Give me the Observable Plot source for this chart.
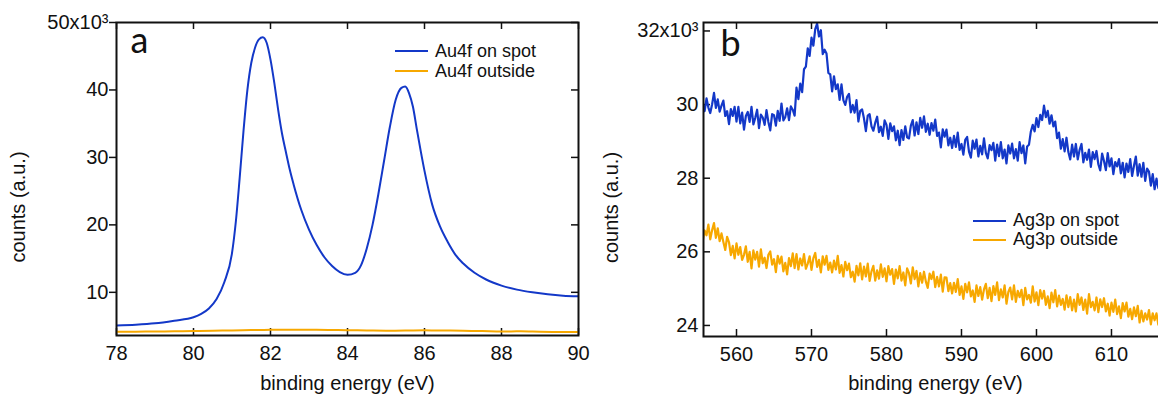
<!DOCTYPE html>
<html><head><meta charset="utf-8">
<script src="https://cdn.jsdelivr.net/npm/d3@7"></script>
<script src="https://cdn.jsdelivr.net/npm/@observablehq/plot@0.6"></script>
<style>
body{margin:0;background:#fff;overflow:hidden}
#wrap{position:relative;width:1158px;height:394px;overflow:hidden;font-family:"Liberation Sans",Arial,sans-serif;color:#111}
.panel{position:absolute;top:0}
.leg{position:absolute;font-size:18px;color:#111}
.leg .row{display:flex;align-items:center;white-space:nowrap}
.leg svg{margin-right:7px;display:block}
</style></head><body><div id="wrap"></div>
<script>
// ---------- panel a : Au4f ----------
const energyA = [78, 78.5, 79, 79.5, 80, 80.2, 80.4, 80.6, 80.8, 81.0, 81.1, 81.2, 81.3, 81.4, 81.5, 81.6, 81.7, 81.8, 81.9, 82.0, 82.1, 82.2, 82.3, 82.4, 82.5, 82.6, 82.8, 83.0, 83.2, 83.4, 83.6, 83.8, 84.0, 84.2, 84.35, 84.5, 84.65, 84.8, 84.95, 85.1, 85.25, 85.4, 85.5, 85.6, 85.7, 85.8, 85.9, 86.0, 86.2, 86.4, 86.6, 86.8, 87.0, 87.3, 87.6, 88.0, 88.4, 88.8, 89.2, 89.6, 90.0];
const au4fOnSpot = [5.1, 5.2, 5.4, 5.8, 6.3, 6.8, 7.6, 9.0, 11.5, 15.8, 20.5, 27.0, 34.0, 40.0, 44.0, 46.3, 47.5, 47.8, 47.0, 44.5, 41.0, 37.0, 33.5, 30.8, 28.2, 26.0, 22.2, 19.3, 17.0, 15.2, 13.9, 13.0, 12.6, 12.9, 14.0, 16.5, 20.0, 24.5, 29.5, 34.5, 38.5, 40.3, 40.5, 39.5, 37.5, 34.2, 31.0, 28.0, 23.0, 19.8, 17.5, 15.6, 14.3, 12.9, 11.9, 11.0, 10.4, 10.0, 9.7, 9.5, 9.4];
const energyAOut = [78, 78.5, 79, 79.5, 80, 80.5, 81, 81.5, 82, 82.5, 83, 83.5, 84, 84.5, 85, 85.5, 86, 86.5, 87, 87.5, 88, 88.5, 89, 89.5, 90];
const au4fOutside = [4.15, 4.17, 4.2, 4.22, 4.25, 4.3, 4.35, 4.4, 4.44, 4.46, 4.45, 4.42, 4.38, 4.35, 4.32, 4.33, 4.36, 4.34, 4.3, 4.26, 4.2, 4.22, 4.16, 4.12, 4.1];
const xTicksA = [78, 80, 82, 84, 86, 88, 90];
const yTicksA = [10, 20, 30, 40, 50];
const yTickLabelsA = ["10", "20", "30", "40", "50x10³"];

// ---------- panel b : Ag3p (0.25 eV sampling from 555.5 eV) ----------
const energyBStart = 555.5, energyBStep = 0.25;
const ag3pOnSpot = [
30.02, 29.82,
30.17, 29.92, 29.77, 30.01,  30.32, 29.91, 30.14, 29.81,  29.97, 30.11, 29.69, 29.82,  29.47, 29.88, 29.69, 29.94,
29.54, 29.94, 29.49, 29.78,  29.32, 29.69, 29.80, 29.53,  29.94, 29.46, 29.64, 29.86,  29.36, 29.73, 29.65, 29.45,
29.85, 29.53, 29.30, 29.74,  29.71, 29.43, 29.83, 29.56,  30.03, 29.57, 29.66, 29.90,  29.58, 29.95, 29.86, 29.70,
30.46, 30.15, 30.57, 30.34,  30.96, 31.03, 31.53, 31.32,  31.82, 31.60, 32.05, 32.20,  31.85, 32.02, 31.37, 31.49,
31.39, 30.86, 30.82, 30.36,  30.77, 30.42, 30.55, 30.13,  30.55, 30.12, 29.99, 30.21,  30.29, 29.79, 29.99, 29.78,
30.12, 29.54, 29.83, 29.87,  29.62, 29.28, 29.70, 29.74,  29.41, 29.29, 29.51, 29.67,  29.25, 29.40, 29.15, 29.57,
29.45, 29.07, 29.49, 29.28,  29.41, 29.03, 29.29, 28.90,  29.31, 29.04, 29.41, 29.11,  29.08, 29.43, 29.58, 29.16,
29.52, 29.20, 29.64, 29.37,  29.68, 29.26, 29.48, 29.18,  29.50, 29.29, 29.59, 29.15,  29.24, 28.84, 29.33, 29.13,
29.32, 28.89, 29.10, 28.82,  29.15, 28.85, 29.24, 28.77,  28.93, 28.64, 29.04, 29.12,  28.72, 28.56, 29.02, 28.80,
29.05, 28.59, 28.88, 28.65,  29.08, 28.69, 28.54, 28.90,  28.76, 28.96, 28.48, 28.91,  28.60, 28.98, 28.54, 28.78,
28.40, 28.89, 28.67, 28.94,  28.54, 28.79, 28.48, 28.98,  28.68, 28.89, 28.40, 28.86,  28.91, 29.27, 29.45, 29.27,
29.63, 29.39, 29.72, 29.58,  29.97, 29.66, 29.83, 29.48,  29.71, 29.41, 29.54, 29.09,  29.24, 28.80, 29.06, 28.73,
29.10, 28.71, 28.51, 28.91,  28.59, 28.93, 28.51, 28.77,  28.93, 28.43, 28.69, 28.50,  28.78, 28.31, 28.71, 28.52,
28.74, 28.38, 28.21, 28.67,  28.47, 28.22, 28.68, 28.32,  28.54, 28.11, 28.44, 28.32,  28.52, 28.13, 28.42, 28.02,
28.40, 28.17, 28.52, 28.06,  28.34, 28.59, 28.07, 28.38,  28.04, 28.42, 27.93, 28.26,  28.18, 27.80, 28.11, 27.70,
27.99, 27.73, 27.91];
const ag3pOutside = [
26.30, 26.58,
26.45, 26.74, 26.34, 26.59,  26.78, 26.38, 26.64, 26.29,  26.50, 26.27, 26.05, 26.41,  26.26, 25.91, 26.16, 25.82,
26.23, 25.92, 26.13, 25.78,  25.92, 26.15, 25.73, 26.00,  25.55, 26.04, 25.79, 26.00,  25.60, 26.07, 25.69, 25.84,
25.56, 25.92, 26.01, 25.65,  25.80, 25.45, 25.89, 25.68,  25.87, 25.47, 25.70, 25.39,  25.83, 25.61, 25.96, 25.56,
25.94, 25.52, 25.82, 25.63,  25.94, 25.54, 25.68, 25.88,  25.51, 25.83, 25.97, 25.59,  25.78, 25.44, 25.88, 25.65,
25.89, 25.51, 25.71, 25.44,  25.76, 25.52, 25.89, 25.43,  25.64, 25.33, 25.73, 25.50,  25.68, 25.31, 25.46, 25.19,
25.62, 25.36, 25.69, 25.25,  25.60, 25.33, 25.68, 25.21,  25.47, 25.62, 25.22, 25.50,  25.27, 25.66, 25.32, 25.55,
25.20, 25.61, 25.38, 25.53,  25.13, 25.52, 25.28, 25.61,  25.22, 25.44, 25.09, 25.55,  25.42, 25.14, 25.58, 25.26,
25.48, 25.06, 25.42, 25.16,  25.46, 25.19, 25.02, 25.41,  25.26, 25.46, 25.04, 25.32,  25.06, 25.38, 24.92, 25.31,
25.30, 24.93, 25.15, 24.87,  25.16, 24.91, 25.26, 24.83,  25.06, 24.72, 25.13, 24.90,  25.17, 24.79, 24.95, 24.64,
25.09, 24.80, 25.04, 24.70,  24.98, 25.13, 24.74, 25.02,  24.66, 25.07, 24.83, 25.17,  24.69, 24.98, 24.76, 25.09,
24.59, 24.91, 25.03, 24.71,  25.09, 24.64, 24.94, 24.77,  24.97, 24.55, 25.02, 24.71,  24.83, 24.62, 25.06, 24.65,
24.90, 24.55, 24.96, 24.73,  24.94, 24.56, 24.79, 24.47,  24.89, 24.63, 24.96, 24.52,  24.81, 24.56, 24.72, 24.43,
24.82, 24.50, 24.77, 24.41,  24.70, 24.38, 24.85, 24.56,  24.76, 24.42, 24.70, 24.32,  24.85, 24.50, 24.64, 24.41,
24.76, 24.36, 24.71, 24.50,  24.74, 24.38, 24.59, 24.27,  24.62, 24.37, 24.70, 24.31,  24.52, 24.20, 24.61, 24.38,
24.62, 24.24, 24.45, 24.17,  24.49, 24.25, 24.53, 24.08,  24.40, 24.11, 24.33, 24.16,  24.42, 24.03, 24.33, 24.14,
24.33, 24.02, 24.22];
const xTicksB = [560, 570, 580, 590, 600, 610];
const yTicksB = [24, 26, 28, 30, 32];
const yTickLabelsB = ["24", "26", "28", "30", "32x10³"];

const seriesNames = {a: ["Au4f on spot", "Au4f outside"], b: ["Ag3p on spot", "Ag3p outside"]};
const BLUE = "#1338c8", ORANGE = "#f7a800", INK = "#111";

const energyB = ag3pOnSpot.map((_, i) => energyBStart + i * energyBStep);
const onA = energyA.map((e, i) => ({e, v: au4fOnSpot[i]}));
const outA = energyAOut.map((e, i) => ({e, v: au4fOutside[i]}));
const onB = energyB.map((e, i) => ({e, v: ag3pOnSpot[i]}));
const outB = energyB.map((e, i) => ({e, v: ag3pOutside[i]}));

function panel({width, ml, mr, mt, mb, xDomain, yDomain, xTicks, yTicks, yLabels, series, curve, lw, letter, letterDx, letterDy, leftOut, ylabDx}) {
  const H = 394;
  const fw = width - ml - mr, fh = H - mt - mb;
  const marks = [
    Plot.axisX({ticks: xTicks, tickSize: 0, tickPadding: 10, fontSize: 20, fill: INK,
      label: "binding energy (eV)", labelAnchor: "center", labelArrow: "none", labelOffset: mb - 5}),
    Plot.axisY({ticks: yTicks, tickSize: leftOut ? 7 : 0, tickPadding: leftOut ? 1 : 5, fontSize: 20, fill: INK, stroke: INK, strokeWidth: 1.5,
      tickFormat: d => yLabels[yTicks.indexOf(d)], label: null}),
    Plot.tickX(xTicks, {x: d => d, insetTop: fh - 7, stroke: INK, strokeWidth: 1.5}),
    Plot.tickX(xTicks, {x: d => d, insetBottom: fh - 7, stroke: INK, strokeWidth: 1.5}),
    Plot.tickY(yTicks, {y: d => d, insetLeft: fw - 7, stroke: INK, strokeWidth: 1.5}),
  ];
  if (!leftOut) marks.push(Plot.tickY(yTicks, {y: d => d, insetRight: fw - 7, stroke: INK, strokeWidth: 1.5}));
  marks.push(
    Plot.line(series[1], {x: "e", y: "v", stroke: ORANGE, strokeWidth: lw, curve, clip: true}),
    Plot.line(series[0], {x: "e", y: "v", stroke: BLUE, strokeWidth: lw, curve, clip: true}),
    Plot.frame({stroke: INK, strokeWidth: 2}),
    Plot.text(["counts (a.u.)"], {frameAnchor: "left", rotate: -90, textAnchor: "middle", dx: ylabDx, dy: 28, fontSize: 20, fill: INK, fontFamily: "Liberation Sans, Arial, sans-serif"}),
    Plot.text([letter], {frameAnchor: "top-left", lineAnchor: "top", textAnchor: "start", dx: letterDx, dy: letterDy, fontSize: 36, fill: INK, fontFamily: "Lato, sans-serif"})
  );
  return Plot.plot({
    width, height: H, marginLeft: ml, marginRight: mr, marginTop: mt, marginBottom: mb,
    style: {fontFamily: "Liberation Sans, Arial, sans-serif", fontSize: "20px", background: "transparent", overflow: "visible", color: INK},
    x: {domain: xDomain},
    y: {domain: yDomain},
    marks
  });
}

const wrap = document.getElementById("wrap");
const pa = panel({width: 600, ml: 116, mr: 22, mt: 22, mb: 59, xDomain: [78, 90], yDomain: [3.6, 50],
  xTicks: xTicksA, yTicks: yTicksA, yLabels: yTickLabelsA, series: [onA, outA], curve: "monotone-x", lw: 2,
  letter: "a", letterDx: 14, letterDy: 5, leftOut: true, ylabDx: -98});
pa.classList.add("panel"); pa.style.left = "0px";
wrap.appendChild(pa);
const pb = panel({width: 587, ml: 113, mr: 10, mt: 22, mb: 58, xDomain: [555.6, 617.47], yDomain: [23.7, 32.23],
  xTicks: xTicksB, yTicks: yTicksB, yLabels: yTickLabelsB, series: [onB, outB], curve: "linear", lw: 2.2,
  letter: "b", letterDx: 17, letterDy: 8, leftOut: false, ylabDx: -92});
pb.classList.add("panel"); pb.style.left = "590px";
wrap.appendChild(pb);

function legend(names, left, top, rowH) {
  const d = document.createElement("div");
  d.className = "leg";
  d.style.left = left + "px"; d.style.top = top + "px";
  [BLUE, ORANGE].forEach((c, i) => {
    const r = document.createElement("div");
    r.className = "row"; r.style.height = rowH + "px";
    r.innerHTML = `<svg width="33" height="4"><line x1="0" x2="33" y1="2" y2="2" stroke="${c}" stroke-width="2"/></svg><span>${names[i]}</span>`;
    d.appendChild(r);
  });
  wrap.appendChild(d);
}
legend(seriesNames.a, 395, 41, 20);
legend(seriesNames.b, 973, 211, 19);
</script></body></html>
